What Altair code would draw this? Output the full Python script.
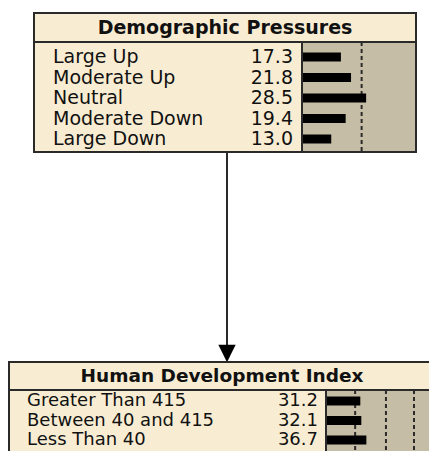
import altair as alt
import pandas as pd

# ---- data ----
top_title = "Demographic Pressures"
top_states = ["Large Up", "Moderate Up", "Neutral", "Moderate Down", "Large Down"]
top_values = [17.3, 21.8, 28.5, 19.4, 13.0]
top_dashes = [26.5]

bottom_title = "Human Development Index"
bottom_states = ["Greater Than 415", "Between 40 and 415", "Less Than 40"]
bottom_values = [31.2, 32.1, 36.7]
bottom_dashes = [26.5, 54.5, 80.0]

# ---- style ----
CREAM = "#F8EDD3"
TAN = "#C6BDA7"
INK = "#2a2a2a"
FONT = "DejaVu Sans"

top_df = pd.DataFrame({"state": top_states, "value": top_values,
                       "label": [f"{v:.1f}" for v in top_values]})
bot_df = pd.DataFrame({"state": bottom_states, "value": bottom_values,
                       "label": [f"{v:.1f}" for v in bottom_values]})
top_dash_df = pd.DataFrame({"value": top_dashes})
bot_dash_df = pd.DataFrame({"value": bottom_dashes})
one = pd.DataFrame({"k": [0]})

def rect(x, x2, y, y2, fill, stroke=None, sw=0):
    kw = dict(fill=fill)
    if stroke:
        kw.update(stroke=stroke, strokeWidth=sw)
    return alt.Chart(one).mark_rect(**kw).encode(
        x=alt.value(x), x2=alt.value(x2), y=alt.value(y), y2=alt.value(y2))

def hline(x, x2, y, sw=2):
    return alt.Chart(one).mark_rule(color=INK, strokeWidth=sw).encode(
        x=alt.value(x), x2=alt.value(x2), y=alt.value(y))

def vline(x, y, y2, sw=2):
    return alt.Chart(one).mark_rule(color=INK, strokeWidth=sw).encode(
        x=alt.value(x), y=alt.value(y), y2=alt.value(y2))

# ----- top node geometry (chart px) -----
TX0, TX1, TY0, TY1 = 26, 408, 5, 144
TSEP, TDIV = 34, 294
top_x = alt.Scale(domain=[0, 100], range=[TDIV, TDIV + 225])
top_y = alt.Scale(type="point", domain=top_states, range=[49, 131], padding=0)

# ----- bottom node geometry -----
BX0, BX1, BY0, BY1 = 0, 445, 354, 470
BSEP, BDIV = 382, 318
bot_x = alt.Scale(domain=[0, 100], range=[BDIV, BDIV + 110])
bot_y = alt.Scale(type="point", domain=bottom_states, range=[393, 432], padding=0)

layers = []
# top box
layers.append(rect(TX0, TX1, TY0, TY1, CREAM))
layers.append(rect(TDIV, TX1, TSEP, TY1, TAN))
layers.append(alt.Chart(top_dash_df).mark_rule(color=INK, strokeWidth=2, strokeDash=[4, 3]).encode(
    x=alt.X("value:Q", scale=top_x, axis=None), y=alt.value(TSEP), y2=alt.value(TY1)))
layers.append(alt.Chart(top_df).mark_bar(color="black", size=9).encode(
    x=alt.X("value:Q", scale=top_x, axis=None),
    y=alt.Y("state:N", scale=top_y, axis=None)))
layers.append(alt.Chart(top_df).mark_text(align="left", baseline="middle", font=FONT,
                                          fontSize=19, color="#111").encode(
    x=alt.value(45), y=alt.Y("state:N", scale=top_y, axis=None), text="state:N"))
layers.append(alt.Chart(top_df).mark_text(align="right", baseline="middle", font=FONT,
                                          fontSize=19, color="#111").encode(
    x=alt.value(285), y=alt.Y("state:N", scale=top_y, axis=None), text="label:N"))
layers.append(alt.Chart(pd.DataFrame({"t": [top_title]})).mark_text(
    align="center", baseline="middle", font=FONT, fontSize=19, fontWeight="bold", color="#111").encode(
    x=alt.value(217), y=alt.value(20), text="t:N"))
layers.append(rect(TX0, TX1, TY0, TY1, "transparent", INK, 2))
layers.append(hline(TX0, TX1, TSEP))
layers.append(vline(TDIV, TSEP, TY1))

# arrow
layers.append(vline(219, TY1, 339, sw=2))
layers.append(alt.Chart(one).mark_point(shape="M-1,-1 L1,-1 L0,1 Z", size=300, filled=True,
                                        color="black", opacity=1).encode(
    x=alt.value(219), y=alt.value(345.5)))

# bottom box
layers.append(rect(BX0, BX1, BY0, BY1, CREAM))
layers.append(rect(BDIV, BX1, BSEP, BY1, TAN))
layers.append(alt.Chart(bot_dash_df).mark_rule(color=INK, strokeWidth=2, strokeDash=[4, 3]).encode(
    x=alt.X("value:Q", scale=bot_x, axis=None), y=alt.value(BSEP), y2=alt.value(BY1)))
layers.append(alt.Chart(bot_df).mark_bar(color="black", size=9).encode(
    x=alt.X("value:Q", scale=bot_x, axis=None),
    y=alt.Y("state:N", scale=bot_y, axis=None)))
layers.append(alt.Chart(bot_df).mark_text(align="left", baseline="middle", font=FONT,
                                          fontSize=18, color="#111").encode(
    x=alt.value(19), y=alt.Y("state:N", scale=bot_y, axis=None), text="state:N"))
layers.append(alt.Chart(bot_df).mark_text(align="right", baseline="middle", font=FONT,
                                          fontSize=18, color="#111").encode(
    x=alt.value(310), y=alt.Y("state:N", scale=bot_y, axis=None), text="label:N"))
layers.append(alt.Chart(pd.DataFrame({"t": [bottom_title]})).mark_text(
    align="center", baseline="middle", font=FONT, fontSize=18.5, fontWeight="bold", color="#111").encode(
    x=alt.value(214), y=alt.value(368), text="t:N"))
layers.append(rect(BX0 + 1, BX1, BY0, BY1, "transparent", INK, 2))
layers.append(hline(BX0, BX1, BSEP))
layers.append(vline(BDIV, BSEP, BY1))

chart = alt.layer(*layers).resolve_scale(x="independent", y="independent").properties(
    width=421, height=443, padding=0, autosize=alt.AutoSizeParams(type="none"),
    background="white"
).configure_view(stroke=None)

chart.save("out.html", embed_options={"renderer": "svg", "actions": False})
